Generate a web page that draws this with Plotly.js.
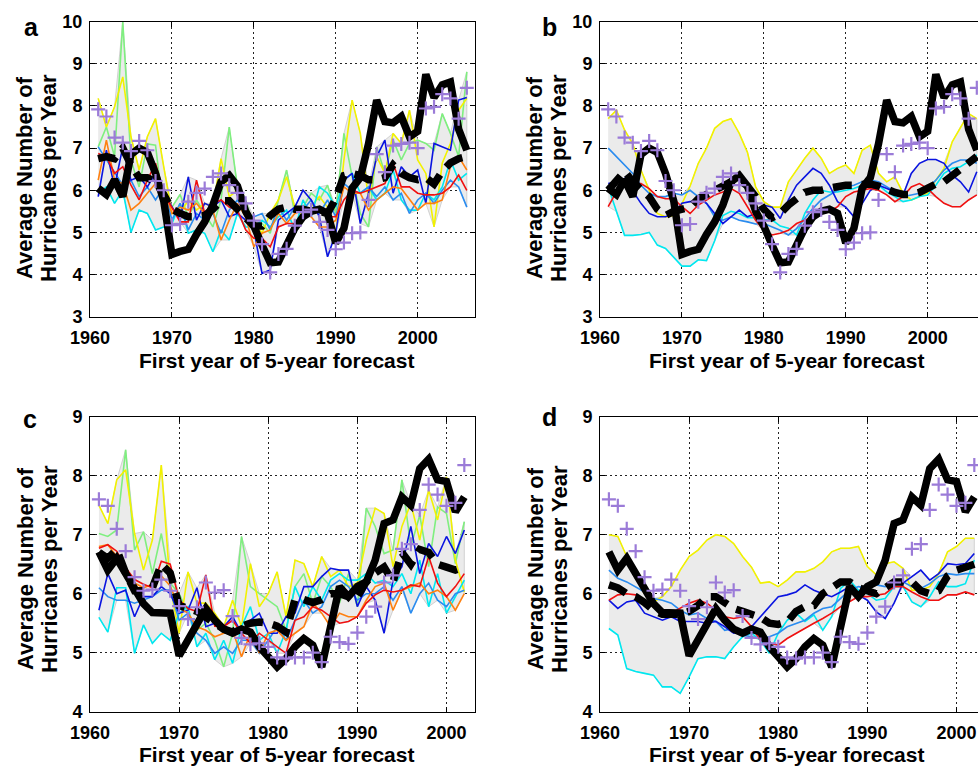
<!DOCTYPE html>
<html>
<head>
<meta charset="utf-8">
<script src="https://cdn.plot.ly/plotly-3.0.1.min.js"></script>
<style>
html, body { margin: 0; padding: 0; overflow: hidden; background: #fff; }
#chart { width: 1000px; height: 766px; }
</style>
</head>
<body>
<div id="chart"></div>
<script>
// ---------- DATA ----------
const yearsAB = [1961,1962,1963,1964,1965,1966,1967,1968,1969,1970,1971,1972,1973,1974,1975,1976,1977,1978,1979,1980,1981,1982,1983,1984,1985,1986,1987,1988,1989,1990,1991,1992,1993,1994,1995,1996,1997,1998,1999,2000,2001,2002,2003,2004,2005,2006];
const yearsCD = [1961,1962,1963,1964,1965,1966,1967,1968,1969,1970,1971,1972,1973,1974,1975,1976,1977,1978,1979,1980,1981,1982,1983,1984,1985,1986,1987,1988,1989,1990,1991,1992,1993,1994,1995,1996,1997,1998,1999,2000,2001,2002];

const xTicks = [1960, 1970, 1980, 1990, 2000];
const yTicksAB = [3, 4, 5, 6, 7, 8, 9, 10];
const yTicksCD = [4, 5, 6, 7, 8, 9];

const panelLetters = ["a", "b", "c", "d"];
const yTitleLine1 = "Average Number of";
const yTitleLine2 = "Hurricanes per Year";
const xTitle = "First year of 5-year forecast";

// observed (thick black solid) and purple crosses
const obsAB = [6.05,5.9,6.25,5.85,6.85,7.0,6.9,6.4,5.75,4.48, 4.55,4.6,4.95,5.25,5.65,6.2,6.35,6.1,5.5,5.15, 4.7,4.28,4.3,4.7,5.1,5.37,5.5,5.55,5.45,4.75, 5.1,6.05,6.3,7.1,8.14,7.63,7.6,7.75,7.27,7.4, 8.75,8.2,8.5,8.57,7.45,6.95];
const plusAB = [7.92,7.75,7.25,7.13,6.93,7.17,6.95,6.22,6.0,5.17, 5.2,5.73,5.94,6.04,6.32,6.4,6.12,5.94,5.69,5.28, 4.72,4.05,4.49,4.61,5.16,5.48,5.54,5.25,5.06,4.6, 4.76,4.98,5.0,5.77,6.86,6.43,7.06,7.1,7.13,7.0, 7.94,7.98,8.28,8.18,7.7,8.43];
const obsCD = [6.71,6.4,6.6,6.35,6.05,5.83,5.68,5.67,5.67,4.95, 5.2,5.44,5.75,5.55,5.4,5.33,5.4,5.35,5.1,4.93, 4.76,4.9,5.1,5.24,5.13,4.76,5.5,6.12,5.95,6.12, 6.2,6.57,7.19,7.25,7.64,7.5,8.12,8.28,7.93,7.9, 7.39,7.64];
const plusCD = [7.6,7.49,7.1,6.72,6.28,6.05,6.07,6.24,6.05,5.79, 5.57,5.77,6.19,6.02,6.06,5.62,5.25,5.14,5.16,5.1, 4.92,4.9,4.92,4.92,5.0,4.84,5.27,5.18,5.15,5.34, 5.61,5.78,6.19,6.31,6.76,6.84,7.42,7.85,7.68,7.49, 7.54,8.18];

// dashed black forecasts
const dashA = [6.75,6.8,6.75,7.0,6.6,6.3,6.3,6.2,5.9,5.55, 5.45,5.37,5.37,5.4,5.55,5.75,5.75,5.55,5.35,5.15, 5.15,5.4,5.55,5.6,5.55,5.55,5.5,5.5,5.45,5.8, 6.35,6.4,6.35,6.25,6.25,6.3,6.6,6.4,6.3,6.25, 6.3,6.15,6.45,6.65,6.75,6.8];
const dashB = [6.0,6.2,6.45,6.2,6.0,5.85,5.55,5.4,5.5,5.55, 5.6,5.8,5.9,6.0,6.1,6.2,6.25,6.1,5.85,5.55, 5.35,5.45,5.65,5.8,5.95,6.0,6.0,6.05,6.1,6.12, 6.12,6.12,6.15,6.1,6.0,5.95,5.9,5.9,5.95,6.05, 6.15,6.2,6.35,6.55,6.65,6.8];
const dashC = [6.7,6.6,6.75,6.35,6.05,6.05,6.1,6.5,6.35,5.8, 5.75,5.7,5.6,5.5,5.4,5.35,5.45,5.5,5.52,5.5, 5.45,5.35,5.9,5.9,5.85,5.9,6.0,6.0,5.95,5.95, 6.2,6.35,6.45,6.2,6.7,6.5,6.75,6.7,6.5,6.45, 6.4,6.45];
const dashD = [6.15,6.1,6.0,5.95,5.85,5.72,5.65,5.65,5.65,5.7, 5.8,5.95,5.95,5.85,5.75,5.7,5.65,5.6,5.5,5.48, 5.52,5.7,5.78,5.8,6.0,6.1,6.2,6.2,6.1,6.05, 6.0,6.1,6.2,6.2,6.2,6.05,6.0,6.05,6.3,6.4, 6.45,6.5];

// panel a coloured members
const greenA  = [7.03,7.5,6.8,10.0,6.72,6.08,7.1,7.07,5.45,5.6, 5.9,5.37,5.77,5.45,5.13,5.77,7.5,6.08,5.77,5.13, 5.21,4.98,5.77,6.48,5.45,5.6,5.93,5.77,6.12,5.45, 7.35,6.32,5.45,5.13,7.03,6.4,7.19,6.72,7.11,7.19, 7.11,6.95,7.82,7.35,6.8,8.81];
const yellowA = [8.18,7.5,7.98,8.69,7.27,6.48,7.27,7.7,6.56,5.45, 5.45,5.77,5.53,5.69,5.6,6.75,5.85,6.0,5.6,5.29, 4.98,5.45,5.77,6.32,5.6,5.37,5.6,5.85,5.6,4.98, 6.72,8.14,7.35,5.77,6.8,6.4,7.35,7.11,7.9,6.72, 6.4,5.13,6.64,7.11,7.9,8.18];
const cyanA   = [5.93,6.08,5.69,6.0,5.0,5.53,5.45,5.06,5.13,5.21, 5.69,4.98,5.06,4.98,4.54,5.06,4.82,5.45,5.13,5.13, 5.29,5.13,5.37,5.53,5.06,5.77,5.37,6.08,5.93,5.6, 6.24,6.4,5.93,6.08,5.77,5.93,6.48,5.77,5.53,5.53, 5.93,5.77,6.08,6.72,6.24,6.4];
const dodgerA = [7.03,6.72,6.4,6.12,6.24,5.85,6.08,5.77,6.08,5.29, 5.69,5.06,5.45,5.29,5.45,4.98,5.53,5.77,5.45,5.37, 5.45,5.06,5.6,5.29,5.6,5.53,5.77,5.45,5.77,5.37, 6.16,6.0,5.93,6.08,5.85,6.08,5.77,5.93,5.45,5.77, 5.93,5.69,6.0,6.24,6.08,5.6];
const blueA   = [5.85,6.95,6.08,7.03,6.24,6.32,6.08,6.4,5.93,5.6, 5.29,6.32,5.29,5.69,5.6,5.77,5.37,5.45,5.29,5.06, 4.03,4.11,5.29,5.45,5.6,6.0,5.77,5.37,4.42,4.98, 6.24,6.4,5.21,5.93,6.8,7.19,5.93,6.56,6.32,6.48, 5.69,7.11,7.03,6.95,8.14,8.2];
const redA    = [6.87,6.8,6.4,6.56,6.12,5.77,6.24,6.64,5.93,5.6, 5.25,5.25,6.24,5.45,5.69,5.77,5.6,5.53,5.06,4.86, 4.86,4.66,5.13,5.21,5.21,5.37,5.45,5.49,5.37,5.37, 5.77,6.0,5.93,6.0,6.08,6.16,6.64,6.08,6.08,5.93, 5.89,5.89,5.93,6.08,6.36,6.0];
const orangeA = [6.24,7.19,6.24,6.16,5.53,5.69,5.93,6.16,6.08,5.45, 5.6,5.53,5.69,5.45,5.53,4.82,5.29,5.69,5.37,4.66, 4.98,5.06,5.45,5.21,5.45,5.53,5.37,5.13,5.13,5.29, 6.08,5.93,5.93,5.53,5.77,5.93,6.08,6.04,5.77,5.53, 5.69,5.69,5.77,6.56,6.8,6.48];

// panel b coloured members (smoothed)
const yellowB = [7.7,7.9,7.43,7.1,6.48,6.0,5.45,5.37,5.4,5.68, 6.1,6.64,7.0,7.47,7.63,7.7,7.35,6.9,6.08,5.73, 5.6,5.6,6.2,6.48,6.76,7.0,6.76,6.4,6.52,6.6, 6.4,6.95,7.07,6.4,6.2,6.32,5.93,5.77,5.85,5.93, 6.24,6.52,7.15,7.5,7.82,7.7];
const cyanB   = [6.08,5.5,4.93,4.93,4.95,5.0,4.7,4.62,4.42,4.2, 4.2,4.35,4.33,4.8,5.4,5.5,5.45,5.35,5.35,5.3, 5.3,5.15,5.1,4.94,5.45,5.77,6.0,5.96,5.96,6.0, 6.04,6.12,6.2,6.12,5.96,5.85,5.73,5.77,5.85,5.89, 6.12,6.4,6.52,6.56,6.68,6.84];
const dodgerB = [7.0,6.8,6.6,6.4,6.12,5.93,5.85,5.85,5.93,5.89, 6.0,5.85,5.69,5.37,5.29,5.37,5.29,5.25,5.2,5.21, 5.13,5.05,4.94,5.09,5.33,5.57,5.77,5.89,6.0,6.08, 6.12,6.2,6.24,6.2,6.08,5.96,5.85,5.89,5.93,6.04, 6.24,6.48,6.64,6.72,6.72,6.64];
const blueB   = [6.16,6.2,6.28,6.0,5.69,5.45,5.37,5.37,5.45,5.69, 5.73,5.8,5.69,5.45,5.21,5.37,5.53,5.37,5.45,5.65, 5.6,5.33,5.77,6.12,6.32,6.52,6.4,6.12,5.73,5.6, 5.37,5.69,6.0,6.12,6.04,5.96,5.89,6.4,6.64,6.73, 6.73,6.64,6.36,6.2,5.96,6.44];
const redB    = [5.61,5.96,6.12,6.16,6.16,6.04,5.85,5.8,5.8,5.61, 5.45,5.65,5.77,5.89,5.96,6.04,5.93,5.61,5.29,5.05, 4.94,4.98,5.05,5.21,5.29,5.37,5.45,5.49,5.61,5.85, 5.96,6.0,6.04,6.0,5.89,5.73,5.85,6.08,6.16,6.04, 5.85,5.69,5.61,5.61,5.77,5.89];

// panel c coloured members
const greenC  = [7.02,6.97,7.08,8.44,6.74,7.05,6.34,7.02,6.18,6.0, 5.67,5.38,5.5,5.21,4.76,5.33,6.97,6.12,6.0,5.89, 5.78,5.38,6.12,6.34,5.84,6.29,6.12,5.84,6.34,5.78, 7.45,7.14,6.68,6.74,7.93,6.8,7.33,6.46,7.47,7.36, 6.51,7.22];
const yellowC = [7.5,7.19,7.93,8.1,7.02,6.4,6.91,8.18,6.12,5.33, 6.37,5.84,5.84,5.67,5.44,5.89,5.44,6.51,5.78,6.0, 6.37,5.61,6.57,6.51,6.12,6.63,6.29,6.4,6.12,6.18, 6.91,7.45,7.36,6.46,7.14,7.53,6.91,7.76,7.25,7.98, 6.57,6.03];
const cyanC   = [5.6,5.35,6.1,6.1,4.99,5.47,5.16,5.33,5.21,5.67, 5.78,5.1,5.33,4.88,5.21,4.82,5.44,5.78,5.21,5.33, 4.99,5.38,6.12,5.78,6.12,5.89,6.23,6.34,6.23,6.23, 6.34,6.18,6.23,6.12,6.34,6.0,6.57,5.78,6.34,5.67, 5.95,6.23];
const dodgerC = [6.1,5.95,5.89,5.89,5.84,5.89,5.95,6.06,6.06,5.55, 5.67,5.33,5.21,4.99,5.1,4.99,5.21,5.21,4.99,5.21, 5.44,5.21,5.55,5.89,5.67,5.78,6.12,6.23,6.12,5.89, 6.0,6.0,6.12,5.89,6.12,5.67,6.0,6.18,5.89,5.78, 6.0,6.06];
const blueC   = [5.72,6.34,6.0,6.06,5.61,5.95,5.95,6.12,6.0,5.67, 5.72,6.1,5.44,5.5,5.44,5.61,5.33,5.55,5.67,5.33, 5.33,5.61,5.67,6.12,6.12,6.29,6.43,6.4,6.4,5.78, 6.12,5.89,5.33,6.23,6.46,7.14,6.34,6.85,6.63,6.97, 6.68,7.08];
const redC    = [6.77,6.83,6.72,6.44,6.24,6.16,6.1,6.55,6.5,5.9, 5.75,5.7,6.32,5.45,5.44,5.55,5.33,5.16,5.33,5.21, 5.1,4.99,5.55,5.61,5.78,5.72,5.61,5.5,5.53,5.61, 5.84,5.98,6.06,6.03,6.06,6.15,6.12,6.63,6.18,5.95, 6.12,6.34];
const orangeC = [6.8,6.83,6.63,6.38,6.18,6.1,6.16,6.3,6.13,5.76, 5.67,5.44,5.38,5.27,5.33,5.38,4.93,5.33,4.99,5.33, 5.38,5.21,5.33,5.44,5.84,5.67,5.44,5.67,5.61,5.61, 5.89,6.12,6.18,5.72,6.06,6.12,6.18,6.0,6.06,5.95, 5.72,6.0];

// panel d coloured members (smoothed)
const yellowD = [7.0,6.97,6.63,6.29,6.0,5.86,5.95,6.12,6.4,6.63, 6.74,6.91,7.0,6.97,6.85,6.63,6.45,6.18,6.2,6.12, 6.23,6.37,6.37,6.43,6.54,6.71,6.77,6.77,6.8,6.46, 6.32,6.51,6.54,6.43,6.06,6.06,6.12,6.34,6.71,6.8, 6.94,6.94];
const cyanD   = [5.41,5.3,4.73,4.68,4.65,4.62,4.42,4.42,4.31,4.59, 4.9,4.93,4.93,4.9,5.1,5.27,5.33,5.21,4.99,5.33, 5.55,5.67,5.53,5.64,5.38,5.61,6.09,6.23,6.06,6.0, 5.89,5.92,6.12,6.12,5.86,5.78,5.95,6.2,6.12,6.12, 6.17,6.57];
const dodgerD = [6.4,6.26,6.2,6.12,6.03,5.92,5.89,5.84,5.72,5.64, 5.67,5.58,5.53,5.38,5.41,5.3,5.27,5.24,5.27,5.33, 5.44,5.5,5.55,5.67,5.75,5.78,5.92,6.06,6.12,6.09, 6.15,6.12,6.2,6.2,6.12,6.09,6.17,6.29,6.34,6.32, 6.34,6.34];
const blueD   = [5.89,5.75,5.86,5.89,5.67,5.61,5.55,5.61,5.53,5.53, 5.53,5.5,5.53,5.44,5.33,5.36,5.44,5.61,5.78,5.95, 5.98,6.03,6.15,6.06,6.0,5.95,6.03,6.12,5.98,5.89, 5.69,5.58,5.84,6.18,6.29,6.4,6.23,6.34,6.51,6.49, 6.51,6.68];
const redD    = [5.89,5.98,6.0,5.98,5.89,5.78,5.67,5.67,5.75,5.84, 5.89,5.84,5.72,5.61,5.58,5.61,5.44,5.21,5.16,5.13, 5.24,5.33,5.41,5.5,5.58,5.67,5.78,5.86,5.95,5.95, 5.98,6.0,6.12,6.12,6.03,5.95,5.89,5.89,5.98,5.98, 6.03,5.98];

// ---------- STYLE ----------
const C = {
  green: '#7fef7f', yellow: '#f2f200', cyan: '#00e8f0', dodger: '#2a8cf0',
  blue: '#0a14e0', red: '#f01010', orange: '#ff8010', purple: '#9b7bd8'
};
const FONT = 'Liberation Sans, Arial, Helvetica, sans-serif';

const panels = [
  { xa: 'x',  ya: 'y',  years: yearsAB, members: [[greenA,C.green],[yellowA,C.yellow],[cyanA,C.cyan],[dodgerA,C.dodger],[blueA,C.blue],[orangeA,C.orange],[redA,C.red]], obs: obsAB, dash: dashA, plus: plusAB },
  { xa: 'x2', ya: 'y2', years: yearsAB, members: [[yellowB,C.yellow],[cyanB,C.cyan],[dodgerB,C.dodger],[blueB,C.blue],[redB,C.red]], obs: obsAB, dash: dashB, plus: plusAB },
  { xa: 'x3', ya: 'y3', years: yearsCD, members: [[greenC,C.green],[yellowC,C.yellow],[cyanC,C.cyan],[dodgerC,C.dodger],[blueC,C.blue],[orangeC,C.orange],[redC,C.red]], obs: obsCD, dash: dashC, plus: plusCD },
  { xa: 'x4', ya: 'y4', years: yearsCD, members: [[yellowD,C.yellow],[cyanD,C.cyan],[dodgerD,C.dodger],[blueD,C.blue],[redD,C.red]], obs: obsCD, dash: dashD, plus: plusCD }
];

const traces = [];
panels.forEach(p => {
  const n = p.years.length;
  const hi = [], lo = [];
  for (let i = 0; i < n; i++) {
    const vals = p.members.map(m => m[0][i]);
    hi.push(Math.max(...vals));
    lo.push(Math.min(...vals));
  }
  traces.push({
    x: p.years.concat(p.years.slice().reverse()),
    y: hi.concat(lo.slice().reverse()),
    xaxis: p.xa, yaxis: p.ya, type: 'scatter', mode: 'lines',
    fill: 'toself', fillcolor: '#ebebeb',
    line: { color: '#c8c8c8', width: 0.8 }, hoverinfo: 'skip', showlegend: false
  });
  p.members.forEach(m => {
    traces.push({ x: p.years, y: m[0], xaxis: p.xa, yaxis: p.ya, type: 'scatter', mode: 'lines',
      line: { color: m[1], width: 1.6 }, showlegend: false });
  });
  traces.push({ x: p.years, y: p.obs, xaxis: p.xa, yaxis: p.ya, type: 'scatter', mode: 'lines',
    line: { color: '#000', width: 7.5 }, showlegend: false });
  traces.push({ x: p.years, y: p.dash, xaxis: p.xa, yaxis: p.ya, type: 'scatter', mode: 'lines',
    line: { color: '#000', width: 7.5, dash: '19px,10px' }, showlegend: false });
  traces.push({ x: p.years, y: p.plus, xaxis: p.xa, yaxis: p.ya, type: 'scatter', mode: 'markers',
    marker: { symbol: 'cross-thin', size: 10, line: { color: C.purple, width: 2.2 } }, showlegend: false });
});

const TICKFONT = { family: FONT, size: 18, weight: 'bold', color: '#000' };
function xAxis(domain, range, anchor) {
  return { domain: domain, range: range, anchor: anchor, tickvals: xTicks, ticktext: xTicks.map(String),
    showline: true, linecolor: '#000', linewidth: 1, mirror: 'ticks', ticks: 'inside', ticklen: 5, tickcolor: '#000',
    showgrid: true, gridcolor: '#222', gridwidth: 1, griddash: '2px,3px', zeroline: false,
    ticklabelstandoff: 5, tickfont: TICKFONT };
}
function yAxis(domain, range, ticks, anchor) {
  return { domain: domain, range: range, anchor: anchor, tickvals: ticks, ticktext: ticks.map(String),
    showline: true, linecolor: '#000', linewidth: 1, mirror: 'ticks', ticks: 'inside', ticklen: 5, tickcolor: '#000',
    showgrid: true, gridcolor: '#222', gridwidth: 1, griddash: '2px,3px', zeroline: false,
    ticklabelstandoff: 3, tickfont: TICKFONT };
}

const W = 1000, H = 766;
const dxL = [90 / W, 475 / W], dxR = [600 / W, 985 / W];
const dyT = [1 - 316.7 / H, 1 - 21.7 / H], dyB = [1 - 711.7 / H, 1 - 416.7 / H];

const annotations = [];
function txt(x, y, text, size, angle) {
  annotations.push({ xref: 'paper', yref: 'paper', x: x / W, y: 1 - y / H, text: text, showarrow: false,
    xanchor: 'center', yanchor: 'middle', textangle: angle || 0,
    font: { family: FONT, size: size, weight: 'bold', color: '#000' } });
}
// panel letters
txt(31, 27, panelLetters[0], 25); txt(549, 27, panelLetters[1], 25);
txt(30, 419, panelLetters[2], 25); txt(549, 417, panelLetters[3], 25);
// y titles
[[0, 178], [510, 178], [0, 569], [510, 569]].forEach(o => {
  txt(25 + o[0], o[1], yTitleLine1, 22, -90);
  txt(49 + o[0], o[1], yTitleLine2, 22, -90);
});
// x titles
txt(276, 360, xTitle, 21); txt(786, 360, xTitle, 21);
txt(276, 754, xTitle, 21); txt(786, 754, xTitle, 21);

const layout = {
  width: W, height: H, autosize: false,
  margin: { l: 0, r: 0, t: 0, b: 0 },
  paper_bgcolor: '#fff', plot_bgcolor: '#fff', showlegend: false,
  xaxis: xAxis(dxL, [1960, 2007], 'y'),
  yaxis: yAxis(dyT, [3, 10], yTicksAB, 'x'),
  xaxis2: xAxis(dxR, [1960, 2007], 'y2'),
  yaxis2: yAxis(dyT, [3, 10], yTicksAB, 'x2'),
  xaxis3: xAxis(dxL, [1960, 2003.2], 'y3'),
  yaxis3: yAxis(dyB, [4, 9], yTicksCD, 'x3'),
  xaxis4: xAxis(dxR, [1960, 2003.2], 'y4'),
  yaxis4: yAxis(dyB, [4, 9], yTicksCD, 'x4'),
  annotations: annotations
};

Plotly.newPlot('chart', traces, layout, { staticPlot: true, displayModeBar: false });
</script>
</body>
</html>
